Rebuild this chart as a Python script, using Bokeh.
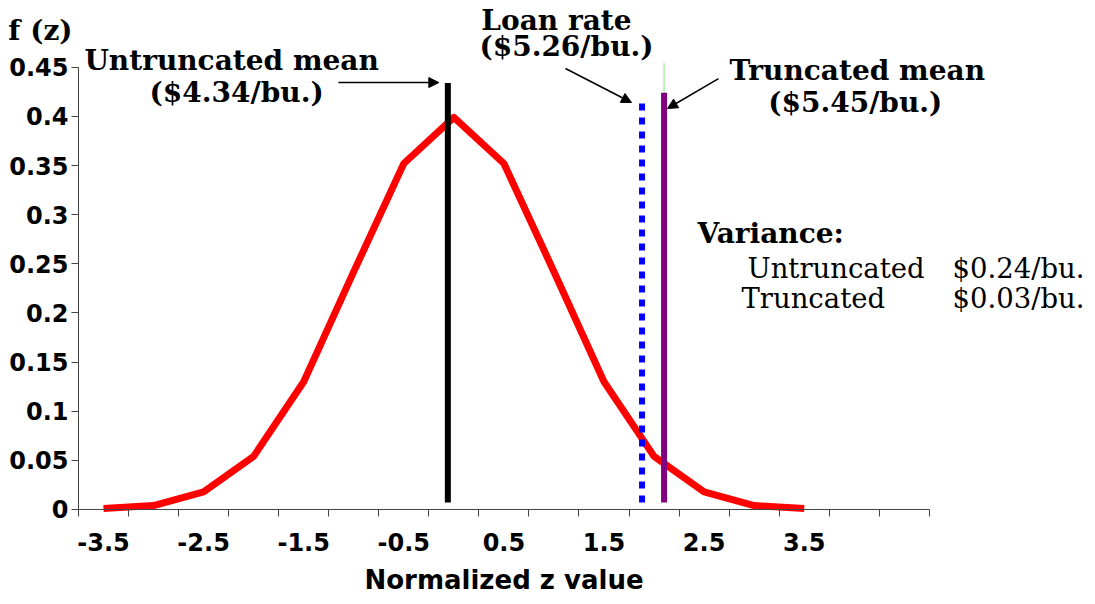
from bokeh.plotting import figure
from bokeh.models import FixedTicker, Label, Arrow, NormalHead, Range1d, NumeralTickFormatter
from bokeh.embed import file_html
from bokeh.resources import INLINE

# ---- data ----
z = [-3.5, -3.0, -2.5, -2.0, -1.5, -1.0, -0.5, 0.0, 0.5, 1.0, 1.5, 2.0, 2.5, 3.0, 3.5]
fz = [0.001, 0.004, 0.018, 0.054, 0.130, 0.242, 0.352, 0.399, 0.352, 0.242, 0.130, 0.054, 0.018, 0.004, 0.001]

x_label_ticks = [-3.5, -2.5, -1.5, -0.5, 0.5, 1.5, 2.5, 3.5]
x_bound_ticks = [-3.75, -3.25, -2.75, -2.25, -1.75, -1.25, -0.75, -0.25, 0.25, 0.75,
                 1.25, 1.75, 2.25, 2.75, 3.25, 3.75, 4.25, 4.75]
y_ticks = [0, 0.05, 0.1, 0.15, 0.2, 0.25, 0.3, 0.35, 0.4, 0.45]

# vertical marker lines: untruncated mean, loan rate, truncated mean
marker_z = [-0.06, 1.88, 2.10]
marker_bottom = [0.007, 0.007, 0.007]
marker_top = [0.434, 0.413, 0.424]
green_z = [2.10]
green_bottom = [0.424]
green_top = [0.455]

SANS = "DejaVu Sans"
SERIF = "DejaVu Serif"

p = figure(width=1090, height=600, output_backend="svg", toolbar_location=None,
           x_range=Range1d(-4.529, 6.360), y_range=Range1d(-0.0926, 0.5179),
           min_border_left=0, min_border_right=0, min_border_top=0, min_border_bottom=0)
p.outline_line_color = None
p.xgrid.visible = False
p.ygrid.visible = False
p.background_fill_color = "white"
p.border_fill_color = "white"

# curve
p.line(z, fz, line_color="#FF0000", line_width=7, line_join="round")

# markers
p.segment(x0=[marker_z[0]], y0=[marker_bottom[0]], x1=[marker_z[0]], y1=[marker_top[0]],
          line_color="black", line_width=6)
p.segment(x0=[marker_z[1]], y0=[marker_bottom[1]], x1=[marker_z[1]], y1=[marker_top[1]],
          line_color="#0000FF", line_width=6, line_dash="7 7")
p.segment(x0=[marker_z[2]], y0=[marker_bottom[2]], x1=[marker_z[2]], y1=[marker_top[2]],
          line_color="#800080", line_width=6)
p.segment(x0=green_z, y0=green_bottom, x1=green_z, y1=green_top,
          line_color="#00CC00", line_width=1, line_dash="1 1")

# axes
ax = p.xaxis[0]
ax.fixed_location = 0
ax.bounds = (-3.75, 4.75)
ax.ticker = FixedTicker(ticks=x_label_ticks, minor_ticks=x_bound_ticks)
ax.formatter = NumeralTickFormatter(format="0.0")
ax.major_tick_line_color = None
ax.major_tick_out = 7
ax.major_tick_in = 0
ax.minor_tick_out = 7
ax.minor_tick_in = 0
ax.minor_tick_line_color = "#444444"
ax.axis_line_color = "#444444"
ax.major_label_standoff = 17
ax.major_label_text_font = SANS
ax.major_label_text_font_style = "bold"
ax.major_label_text_font_size = "24px"
ax.major_label_text_color = "black"
ax.axis_label = "Normalized z value"
ax.axis_label_text_font = SANS
ax.axis_label_text_font_style = "bold"
ax.axis_label_text_font_size = "26px"
ax.axis_label_text_color = "black"
ax.axis_label_standoff = 10

ay = p.yaxis[0]
ay.fixed_location = -3.75
ay.bounds = (0, 0.45)
ay.ticker = FixedTicker(ticks=y_ticks, minor_ticks=[])
ay.formatter = NumeralTickFormatter(format="0.[00]")
ay.major_tick_out = 7
ay.major_tick_in = 0
ay.major_tick_line_color = "#444444"
ay.axis_line_color = "#444444"
ay.major_label_standoff = 3
ay.major_label_text_font = SANS
ay.major_label_text_font_style = "bold"
ay.major_label_text_font_size = "24px"
ay.major_label_text_color = "black"


def lab(x, y, text, font=SERIF, size="28px", bold=True, align="center"):
    p.add_layout(Label(x=x, y=y, text=text, text_font=font, text_font_size=size,
                       text_font_style="bold" if bold else "normal",
                       text_align=align, text_baseline="middle", text_color="black"))


lab(-4.13, 0.487, "f (z)")
lab(-2.22, 0.4568, "Untruncated mean")
lab(-2.17, 0.4243, "($4.34/bu.)")
lab(1.025, 0.4975, "Loan rate")
lab(1.125, 0.471, "($5.26/bu.)")
lab(4.03, 0.4466, "Truncated mean")
lab(4.01, 0.4141, "($5.45/bu.)")
lab(2.434, 0.2808, "Variance:", align="left")
lab(2.933, 0.2462, "Untruncated", size="27.5px", bold=False, align="left")
lab(4.981, 0.2462, "$0.24/bu.", size="27.5px", bold=False, align="left")
lab(2.873, 0.2147, "Truncated", size="27.5px", bold=False, align="left")
lab(4.981, 0.2147, "$0.03/bu.", size="27.5px", bold=False, align="left")

for (xs, ys, xe, ye) in [(-1.153, 0.4344, -0.15, 0.4344),
                         (1.115, 0.4487, 1.775, 0.4141),
                         (2.644, 0.4385, 2.134, 0.408)]:
    p.add_layout(Arrow(x_start=xs, y_start=ys, x_end=xe, y_end=ye,
                       line_color="black", line_width=1.5,
                       end=NormalHead(size=10, fill_color="black", line_color="black")))

open("out.html", "w").write(file_html(p, INLINE))
